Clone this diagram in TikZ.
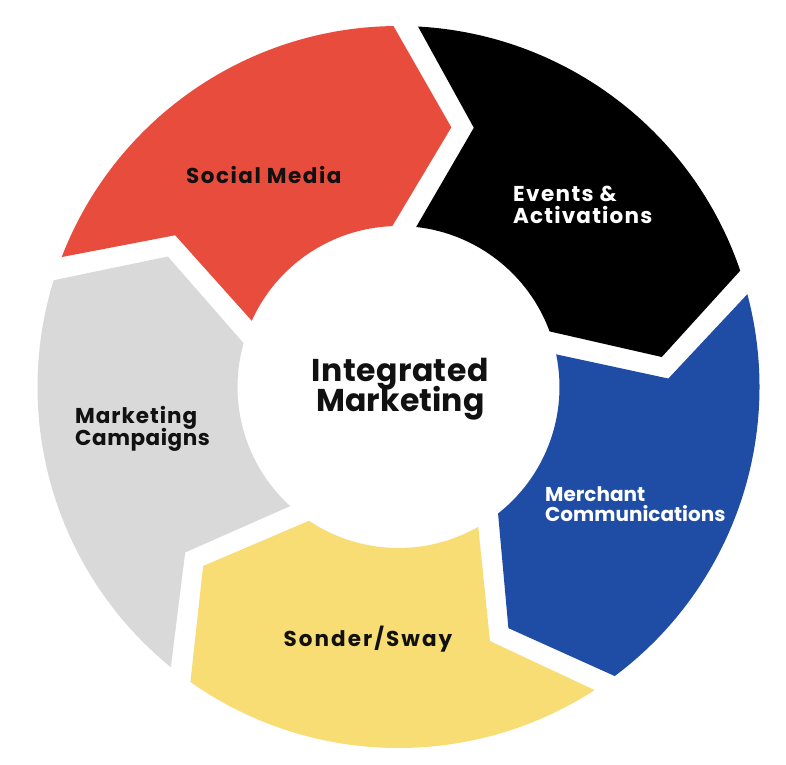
\documentclass[tikz,border=0pt]{standalone}
\usepackage{fontspec}
\setmainfont{Poppins}
\definecolor{segred}{HTML}{E84C3D}
\definecolor{segblack}{HTML}{000000}
\definecolor{segblue}{HTML}{1F4DA6}
\definecolor{segyellow}{HTML}{F8DC74}
\definecolor{seggray}{HTML}{D9D9D9}
\definecolor{txtdark}{HTML}{111111}
\newcommand{\lblfont}[2]{\bfseries\fontsize{#1}{#1}\selectfont\addfontfeatures{LetterSpace=#2}}
\tikzset{
  lbl/.style={inner sep=0pt, text=txtdark},
  lblw/.style={inner sep=0pt, text=white},
}
\newcommand{\segshape}[2]{%
  \fill[#2] (158.9+#1:361) -- (145.8+#1:270) -- (155.7+#1:161)
    arc[start angle=155.7+#1, end angle=92.2+#1, radius=161]
    -- (78.5+#1:265) -- (90.8+#1:361)
    arc[start angle=90.8+#1, end angle=158.9+#1, radius=361] -- cycle;}
\begin{document}
\begin{tikzpicture}[x=1pt,y=1pt]
\useasboundingbox (-398.5,-377) rectangle (387.5,387);
\fill[white] (-398.5,-377) rectangle (387.5,387);
\segshape{0}{segred}
\segshape{-72}{segblack}
\segshape{-144}{segblue}
\segshape{-216}{segyellow}
\segshape{-288}{seggray}
% centre
\node[lbl, font=\lblfont{31.5}{1.5}, anchor=base] (c1) at (1.5,5.3) {Integrated};
\node[lbl, font=\lblfont{31.5}{0.3}, anchor=base] (c2) at (2,-24.7) {Marketing};
% labels
\node[lbl, font=\lblfont{21.5}{7}, anchor=base] (sm) at (-134.65,203.7) {Social Media};
\node[lblw, font=\lblfont{21.5}{6.5}, anchor=base west] (ev1) at (114.5,186) {Events \&};
\node[lblw, font=\lblfont{21.5}{5.5}, anchor=base west] (ev2) at (114.5,163.7) {Activations};
\node[lblw, font=\lblfont{20}{0}, anchor=base west] (mc1) at (146.5,-114.7) {Merchant};
\node[lblw, font=\lblfont{20}{0}, anchor=base west] (mc2) at (146.5,-134.7) {Communications};
\node[lbl, font=\lblfont{21.5}{9.5}, anchor=base] (ss) at (-30.5,-259) {Sonder/Sway};
\node[lbl, font=\lblfont{21.5}{4.5}, anchor=base west] (mk1) at (-323.5,-36.3) {Marketing};
\node[lbl, font=\lblfont{21.5}{2.5}, anchor=base west] (mk2) at (-323.5,-58) {Campaigns};
\end{tikzpicture}
\end{document}
